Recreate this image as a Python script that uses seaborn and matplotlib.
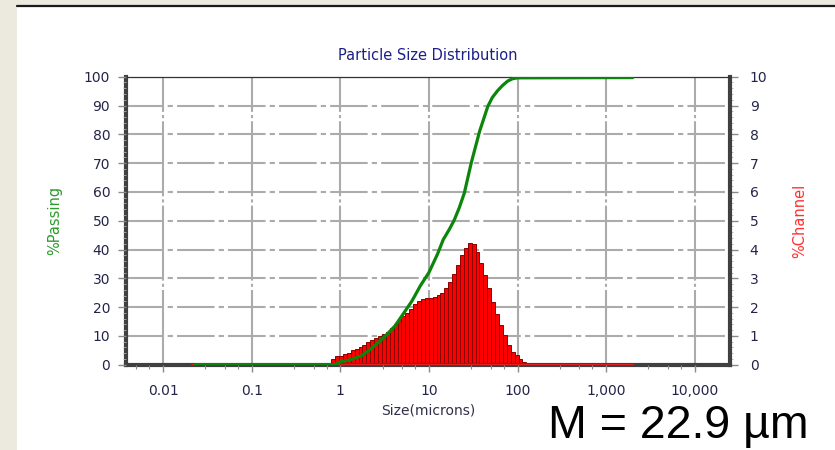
import numpy as np
import pandas as pd
import matplotlib
matplotlib.use("Agg")
import matplotlib.pyplot as plt
import seaborn as sns
from matplotlib.lines import Line2D
from matplotlib.patches import Rectangle
from matplotlib.ticker import FixedLocator, FixedFormatter, MultipleLocator, LogLocator, NullFormatter

# ---------------- data ----------------
channel_edge_lo = 0.79     # microns, left edge of first channel
channel_edge_hi = 125.7    # microns, right edge of last channel
channel_pct = [0.21, 0.29, 0.29, 0.36, 0.42, 0.50, 0.56, 0.62, 0.67, 0.79,
               0.85, 0.91, 0.99, 1.08, 1.14, 1.29, 1.41, 1.55, 1.69, 1.80,
               1.95, 2.10, 2.21, 2.29, 2.30, 2.30, 2.34, 2.42, 2.50, 2.65,
               2.88, 3.15, 3.47, 3.81, 4.05, 4.22, 4.20, 3.93, 3.52, 3.12,
               2.65, 2.19, 1.76, 1.37, 1.02, 0.67, 0.44, 0.33, 0.21, 0.09]

passing_size = [0.023, 0.85, 0.91, 1.0, 1.3, 1.73, 2.2, 2.68, 3.3, 4.15, 5.2,
                6.46, 8.0, 10.0, 12.5, 14.5, 17.0, 19.3, 22.0, 25.1, 30.0,
                37.3, 46.2, 52.0, 59.8, 68.0, 77.6, 88.0, 100.0, 2000.0]
passing_pct = [0.0, 0.0, 0.3, 1.0, 1.7, 3.1, 5.4, 7.7, 10.3, 13.5, 17.9,
               22.2, 27.4, 32.0, 38.4, 43.4, 47.0, 50.2, 54.5, 59.6, 70.0,
               81.0, 89.7, 92.8, 95.2, 97.0, 98.5, 99.3, 99.6, 99.7]

zero_line_size = [0.021, 2000.0]
zero_line_pct = [0.0, 0.0]

x_ticks = [0.01, 0.1, 1, 10, 100, 1000, 10000]
x_tick_labels = ["0.01", "0.1", "1", "10", "100", "1,000", "10,000"]
left_ticks = list(range(0, 101, 10))
right_ticks = list(range(0, 11))

title = "Particle Size Distribution"
x_label = "Size(microns)"
left_label = "%Passing"
right_label = "%Channel"
note = "M = 22.9 µm"

# ---------------- styling ----------------
sns.set_theme(style="white")
plt.rcParams['font.family'] = ['DejaVu Sans']

W, H = 835, 450
fig = plt.figure(figsize=(W / 100, H / 100), dpi=100)
fig.patch.set_facecolor("white")

# window frame decoration
fig.patches.append(Rectangle((0, 0), 17 / W, 1, transform=fig.transFigure,
                             facecolor="#ECE9DE", edgecolor="none", zorder=0))
fig.patches.append(Rectangle((0, 1 - 5 / H), 1, 5 / H, transform=fig.transFigure,
                             facecolor="#ECE9DE", edgecolor="none", zorder=0))
fig.add_artist(Line2D([17 / W, 1], [1 - 6 / H, 1 - 6 / H], transform=fig.transFigure,
                      color="#1a1a1a", lw=1.6))

x0, x1 = 125.5, 730.3
y_top, y_bot = 76.7, 364.7
ax = fig.add_axes([x0 / W, 1 - y_bot / H, (x1 - x0) / W, (y_bot - y_top) / H])
ax2 = ax.twinx()
ax.set_zorder(ax2.get_zorder() + 1)
ax.patch.set_visible(False)
ax2.patch.set_visible(True)
ax2.patch.set_facecolor("white")

# ---- channel bars (right axis) ----
edges = np.geomspace(channel_edge_lo, channel_edge_hi, len(channel_pct) + 1)
log_edges = np.log10(edges)
centers = 10 ** ((log_edges[:-1] + log_edges[1:]) / 2)
chan_df = pd.DataFrame({"size": centers, "pct": channel_pct})
sns.histplot(data=chan_df, x="size", weights="pct", bins=[float(v) for v in log_edges],
             log_scale=True, ax=ax2, color="#ff0000", edgecolor="#8c0000",
             linewidth=0.7, alpha=1, stat="count", zorder=2)
zero_df = pd.DataFrame({"size": zero_line_size, "pct": zero_line_pct})
sns.lineplot(data=zero_df, x="size", y="pct", ax=ax2, color="#ff1a1a",
             linewidth=1.2, zorder=3)

# ---- cumulative passing (left axis) ----
pass_df = pd.DataFrame({"size": passing_size, "pct": passing_pct})
sns.lineplot(data=pass_df, x="size", y="pct", ax=ax, color="#0b860b",
             linewidth=2.3, zorder=4)

ax.set_xscale("log")
ax.set_xlim(0.003765, 25200)
ax.set_ylim(0, 100)
ax2.set_ylim(0, 10)

# grid on the lower axes (behind bars)
grid_col = "#ababab"
ax2.xaxis.set_visible(True)
ax2.set_xticks(x_ticks)
ax2.xaxis.set_minor_locator(FixedLocator([]))
ax2.tick_params(axis="x", which="both", bottom=False, top=False,
                labelbottom=False, labeltop=False)
ax2.set_xlabel("")
ax2.xaxis.grid(True, which="major", color=grid_col, linewidth=1.5,
               linestyle=(0, (36, 1.5, 1.5, 1.5)))
ax2.yaxis.grid(True, which="major", color=grid_col, linewidth=1.5,
               linestyle=(0, (18, 2, 2.5, 2)))
ax2.set_axisbelow(True)
ax.grid(False)

# spines
for s in ax.spines.values():
    s.set_visible(False)
spine_col = "#404040"
for side in ["left", "bottom", "right"]:
    ax2.spines[side].set_visible(True)
    ax2.spines[side].set_color(spine_col)
    ax2.spines[side].set_linewidth(3.0)
ax2.spines["top"].set_visible(True)
ax2.spines["top"].set_color("#333333")
ax2.spines["top"].set_linewidth(0.9)

label_col = "#24244a"
tick_col = "#8a8a8a"

# left ticks
ax.yaxis.set_major_locator(FixedLocator(left_ticks))
ax.yaxis.set_minor_locator(MultipleLocator(2))
ax.tick_params(axis="y", which="major", left=True, right=False, direction="out",
               length=6, width=1, color=tick_col, labelcolor=label_col,
               labelsize=10, pad=5)
ax.tick_params(axis="y", which="minor", left=True, right=False, direction="out",
               length=2.5, width=0.6, color="#b0b0b0")

# right ticks
ax2.yaxis.set_major_locator(FixedLocator(right_ticks))
ax2.yaxis.set_minor_locator(MultipleLocator(0.2))
ax2.tick_params(axis="y", which="major", right=True, left=False, direction="out",
                length=6, width=1, color=tick_col, labelcolor=label_col,
                labelsize=10, pad=8)
ax2.tick_params(axis="y", which="minor", right=True, left=False, direction="out",
                length=2.5, width=0.6, color="#b0b0b0")

# bottom ticks
ax.xaxis.set_major_locator(FixedLocator(x_ticks))
ax.xaxis.set_major_formatter(FixedFormatter(x_tick_labels))
ax.xaxis.set_minor_locator(LogLocator(base=10, subs=(3, 5, 7), numticks=20))
ax.xaxis.set_minor_formatter(NullFormatter())
ax.tick_params(axis="x", which="major", bottom=True, top=False, direction="out",
               length=5, width=1, color=tick_col, labelcolor=label_col,
               labelsize=10, pad=9)
ax.tick_params(axis="x", which="minor", bottom=True, top=False, direction="out",
               length=3, width=0.8, color=tick_col)

# labels
ax.set_title(title, color="#1e1e8a", fontsize=10.5, pad=12)
ax.set_xlabel(x_label, color="#303048", fontsize=10)
ax.xaxis.label.set_va("center")
ax.xaxis.set_label_coords(0.5, (y_bot - 411) / (y_bot - y_top))
ax.set_ylabel(left_label, color="#2e9a2e", fontsize=10.5)
ax.yaxis.label.set_va("center")
ax.yaxis.set_label_coords((55 - x0) / (x1 - x0), 0.5)
ax2.set_ylabel(right_label, color="#ff3030", fontsize=10.5, rotation=90)
ax2.yaxis.label.set_va("center")
ax2.yaxis.set_label_coords((800 - x0) / (x1 - x0), 0.5)

fig.text(548 / W, 1 - 438 / H, note, fontsize=33.5, family=["Liberation Sans", "DejaVu Sans"],
         color="black", ha="left", va="baseline")

fig.savefig("out.png", dpi=100, facecolor=fig.get_facecolor())
